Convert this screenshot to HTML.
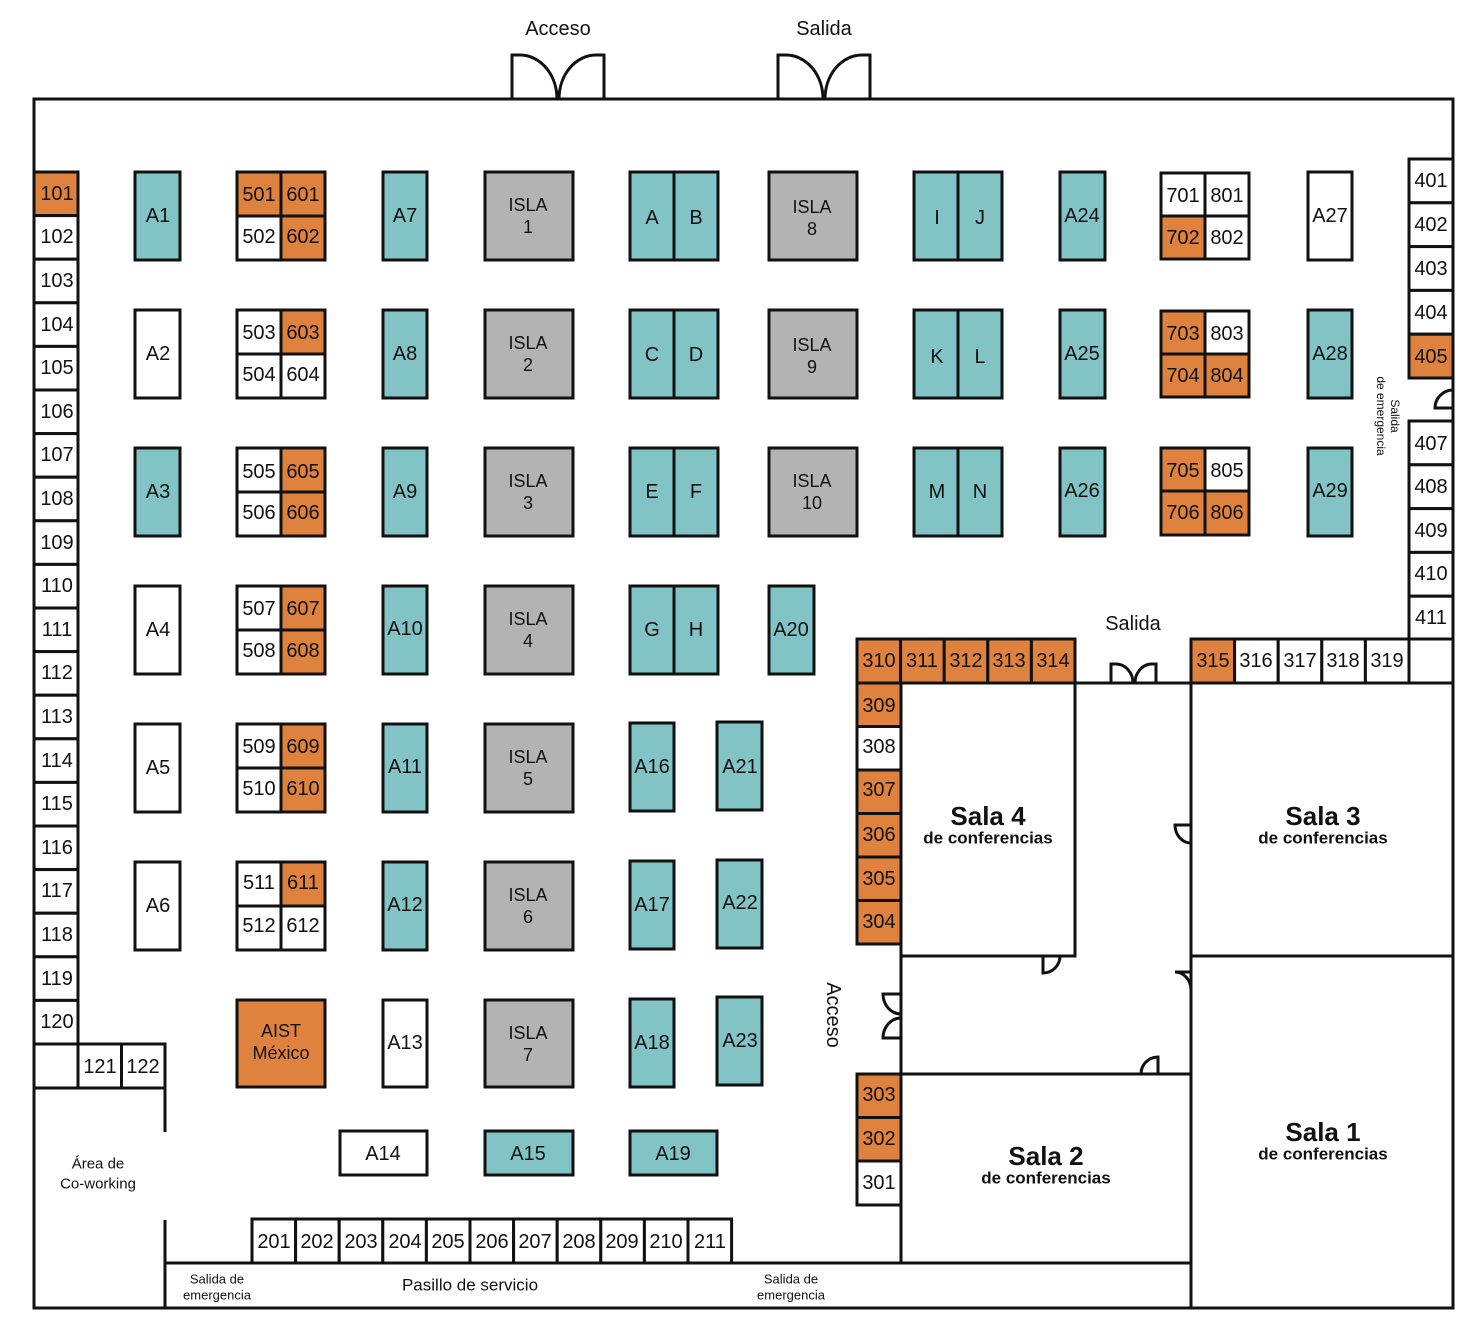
<!DOCTYPE html>
<html><head><meta charset="utf-8"><style>
html,body{margin:0;padding:0;background:#fff}
svg{display:block}
text{font-family:"Liberation Sans",sans-serif;fill:#111;text-anchor:middle;dominant-baseline:central}
rect{stroke:#111;stroke-width:3}
.o{fill:#DE823D}.t{fill:#82C3C6}.g{fill:#B3B3B3}.w{fill:#fff}
.n{font-size:20px}.s{font-size:18px}
.ln{stroke:#111;stroke-width:3;fill:none}
</style></head><body>
<svg width="1484" height="1336" viewBox="0 0 1484 1336" xmlns="http://www.w3.org/2000/svg">
<!-- outer walls -->
<path class="ln" d="M34,99 H1453 V1308 H34 Z"/>
<!-- top doors -->
<path class="ln" d="M512,99 V55 H520 A37,44 0 0 1 557,99 M604,99 V55 H596 A37,44 0 0 0 559,99"/>
<path class="ln" d="M778,99 V55 H786 A37,44 0 0 1 823,99 M870,99 V55 H862 A37,44 0 0 0 825,99"/>
<text x="558" y="29" class="n">Acceso</text>
<text x="824" y="29" class="n">Salida</text>

<!-- 100s column -->
<g class="n">
<rect class="o" x="34" y="172" width="44" height="43.6"/><text x="57" y="194">101</text>
<rect class="w" x="34" y="215.6" width="44" height="43.6"/><text x="57" y="237">102</text>
<rect class="w" x="34" y="259.2" width="44" height="43.6"/><text x="57" y="281">103</text>
<rect class="w" x="34" y="302.8" width="44" height="43.6"/><text x="57" y="325">104</text>
<rect class="w" x="34" y="346.4" width="44" height="43.6"/><text x="57" y="368">105</text>
<rect class="w" x="34" y="390" width="44" height="43.6"/><text x="57" y="412">106</text>
<rect class="w" x="34" y="433.6" width="44" height="43.6"/><text x="57" y="455">107</text>
<rect class="w" x="34" y="477.2" width="44" height="43.6"/><text x="57" y="499">108</text>
<rect class="w" x="34" y="520.8" width="44" height="43.6"/><text x="57" y="543">109</text>
<rect class="w" x="34" y="564.4" width="44" height="43.6"/><text x="57" y="586">110</text>
<rect class="w" x="34" y="608" width="44" height="43.6"/><text x="57" y="630">111</text>
<rect class="w" x="34" y="651.6" width="44" height="43.6"/><text x="57" y="673">112</text>
<rect class="w" x="34" y="695.2" width="44" height="43.6"/><text x="57" y="717">113</text>
<rect class="w" x="34" y="738.8" width="44" height="43.6"/><text x="57" y="761">114</text>
<rect class="w" x="34" y="782.4" width="44" height="43.6"/><text x="57" y="804">115</text>
<rect class="w" x="34" y="826" width="44" height="43.6"/><text x="57" y="848">116</text>
<rect class="w" x="34" y="869.6" width="44" height="43.6"/><text x="57" y="891">117</text>
<rect class="w" x="34" y="913.2" width="44" height="43.6"/><text x="57" y="935">118</text>
<rect class="w" x="34" y="956.8" width="44" height="43.6"/><text x="57" y="979">119</text>
<rect class="w" x="34" y="1000.4" width="44" height="43.6"/><text x="57" y="1022">120</text>
<rect class="w" x="34" y="1044" width="44" height="44"/>
<rect class="w" x="78" y="1044" width="43.5" height="44"/><text x="100" y="1067">121</text>
<rect class="w" x="121.5" y="1044" width="43.5" height="44"/><text x="143" y="1067">122</text>
</g>
<path class="ln" d="M165,1088 V1132 M165,1220 V1308 M165,1263 H1191"/>
<text x="98" y="1164" style="font-size:15px">Área de</text>
<text x="98" y="1184" style="font-size:15px">Co-working</text>
<text x="217" y="1279" style="font-size:13px">Salida de</text>
<text x="217" y="1295" style="font-size:13px">emergencia</text>
<text x="470" y="1285" style="font-size:17px">Pasillo de servicio</text>
<text x="791" y="1279" style="font-size:13px">Salida de</text>
<text x="791" y="1295" style="font-size:13px">emergencia</text>

<!-- 200s -->
<g class="n">
<rect class="w" x="252" y="1219" width="43.6" height="44"/><text x="274" y="1242">201</text>
<rect class="w" x="295.6" y="1219" width="43.6" height="44"/><text x="317" y="1242">202</text>
<rect class="w" x="339.2" y="1219" width="43.6" height="44"/><text x="361" y="1242">203</text>
<rect class="w" x="382.8" y="1219" width="43.6" height="44"/><text x="405" y="1242">204</text>
<rect class="w" x="426.4" y="1219" width="43.6" height="44"/><text x="448" y="1242">205</text>
<rect class="w" x="470" y="1219" width="43.6" height="44"/><text x="492" y="1242">206</text>
<rect class="w" x="513.6" y="1219" width="43.6" height="44"/><text x="535" y="1242">207</text>
<rect class="w" x="557.2" y="1219" width="43.6" height="44"/><text x="579" y="1242">208</text>
<rect class="w" x="600.8" y="1219" width="43.6" height="44"/><text x="622" y="1242">209</text>
<rect class="w" x="644.4" y="1219" width="43.6" height="44"/><text x="666" y="1242">210</text>
<rect class="w" x="688" y="1219" width="43.6" height="44"/><text x="710" y="1242">211</text>
</g>

<!-- A column 1 -->
<g class="n">
<rect class="t" x="135" y="172" width="45" height="88"/><text x="158" y="216">A1</text>
<rect class="w" x="135" y="310" width="45" height="88"/><text x="158" y="354">A2</text>
<rect class="t" x="135" y="448" width="45" height="88"/><text x="158" y="492">A3</text>
<rect class="w" x="135" y="586" width="45" height="88"/><text x="158" y="630">A4</text>
<rect class="w" x="135" y="724" width="45" height="88"/><text x="158" y="768">A5</text>
<rect class="w" x="135" y="862" width="45" height="88"/><text x="158" y="906">A6</text>
</g>

<!-- 500/600 grids -->
<g class="n">
<rect class="o" x="237" y="172" width="44" height="44"/><text x="259" y="195">501</text>
<rect class="o" x="281" y="172" width="44" height="44"/><text x="303" y="195">601</text>
<rect class="w" x="237" y="216" width="44" height="44"/><text x="259" y="237">502</text>
<rect class="o" x="281" y="216" width="44" height="44"/><text x="303" y="237">602</text>

<rect class="w" x="237" y="310" width="44" height="44"/><text x="259" y="333">503</text>
<rect class="o" x="281" y="310" width="44" height="44"/><text x="303" y="333">603</text>
<rect class="w" x="237" y="354" width="44" height="44"/><text x="259" y="375">504</text>
<rect class="w" x="281" y="354" width="44" height="44"/><text x="303" y="375">604</text>

<rect class="w" x="237" y="448" width="44" height="44"/><text x="259" y="472">505</text>
<rect class="o" x="281" y="448" width="44" height="44"/><text x="303" y="472">605</text>
<rect class="w" x="237" y="492" width="44" height="44"/><text x="259" y="513">506</text>
<rect class="o" x="281" y="492" width="44" height="44"/><text x="303" y="513">606</text>

<rect class="w" x="237" y="586" width="44" height="44"/><text x="259" y="609">507</text>
<rect class="o" x="281" y="586" width="44" height="44"/><text x="303" y="609">607</text>
<rect class="w" x="237" y="630" width="44" height="44"/><text x="259" y="651">508</text>
<rect class="o" x="281" y="630" width="44" height="44"/><text x="303" y="651">608</text>

<rect class="w" x="237" y="724" width="44" height="44"/><text x="259" y="747">509</text>
<rect class="o" x="281" y="724" width="44" height="44"/><text x="303" y="747">609</text>
<rect class="w" x="237" y="768" width="44" height="44"/><text x="259" y="789">510</text>
<rect class="o" x="281" y="768" width="44" height="44"/><text x="303" y="789">610</text>

<rect class="w" x="237" y="862" width="44" height="44"/><text x="259" y="883">511</text>
<rect class="o" x="281" y="862" width="44" height="44"/><text x="303" y="883">611</text>
<rect class="w" x="237" y="906" width="44" height="44"/><text x="259" y="926">512</text>
<rect class="w" x="281" y="906" width="44" height="44"/><text x="303" y="926">612</text>
</g>
<rect class="o" x="237" y="1000" width="88" height="87"/>
<text x="281" y="1031" class="s">AIST</text><text x="281" y="1053" class="s">México</text>

<!-- A7 column -->
<g class="n">
<rect class="t" x="383" y="172" width="44" height="88"/><text x="405" y="216">A7</text>
<rect class="t" x="383" y="310" width="44" height="88"/><text x="405" y="354">A8</text>
<rect class="t" x="383" y="448" width="44" height="88"/><text x="405" y="492">A9</text>
<rect class="t" x="383" y="586" width="44" height="88"/><text x="405" y="629">A10</text>
<rect class="t" x="383" y="724" width="44" height="88"/><text x="405" y="767">A11</text>
<rect class="t" x="383" y="862" width="44" height="88"/><text x="405" y="905">A12</text>
<rect class="w" x="383" y="1000" width="44" height="87"/><text x="405" y="1043">A13</text>
<rect class="w" x="340" y="1131" width="87" height="44"/><text x="383" y="1154">A14</text>
<rect class="t" x="485" y="1131" width="88" height="44"/><text x="528" y="1154">A15</text>
<rect class="t" x="630" y="1131" width="87" height="44"/><text x="673" y="1154">A19</text>
</g>

<!-- ISLA column -->
<g class="s">
<rect class="g" x="485" y="172" width="88" height="88"/><text x="528" y="205">ISLA</text><text x="528" y="227">1</text>
<rect class="g" x="485" y="310" width="88" height="88"/><text x="528" y="343">ISLA</text><text x="528" y="365">2</text>
<rect class="g" x="485" y="448" width="88" height="88"/><text x="528" y="481">ISLA</text><text x="528" y="503">3</text>
<rect class="g" x="485" y="586" width="88" height="88"/><text x="528" y="619">ISLA</text><text x="528" y="641">4</text>
<rect class="g" x="485" y="724" width="88" height="88"/><text x="528" y="757">ISLA</text><text x="528" y="779">5</text>
<rect class="g" x="485" y="862" width="88" height="88"/><text x="528" y="895">ISLA</text><text x="528" y="917">6</text>
<rect class="g" x="485" y="1000" width="88" height="87"/><text x="528" y="1033">ISLA</text><text x="528" y="1055">7</text>
<rect class="g" x="769" y="172" width="88" height="88"/><text x="812" y="207">ISLA</text><text x="812" y="229">8</text>
<rect class="g" x="769" y="310" width="88" height="88"/><text x="812" y="345">ISLA</text><text x="812" y="367">9</text>
<rect class="g" x="769" y="448" width="88" height="88"/><text x="812" y="481">ISLA</text><text x="812" y="503">10</text>
</g>

<!-- lettered pairs -->
<g class="n">
<rect class="t" x="630" y="172" width="44" height="88"/><text x="652" y="218">A</text>
<rect class="t" x="674" y="172" width="44" height="88"/><text x="696" y="218">B</text>
<rect class="t" x="630" y="310" width="44" height="88"/><text x="652" y="355">C</text>
<rect class="t" x="674" y="310" width="44" height="88"/><text x="696" y="355">D</text>
<rect class="t" x="630" y="448" width="44" height="88"/><text x="652" y="492">E</text>
<rect class="t" x="674" y="448" width="44" height="88"/><text x="696" y="492">F</text>
<rect class="t" x="630" y="586" width="44" height="88"/><text x="652" y="630">G</text>
<rect class="t" x="674" y="586" width="44" height="88"/><text x="696" y="630">H</text>
<rect class="t" x="769" y="586" width="45" height="88"/><text x="791" y="630">A20</text>
<rect class="t" x="630" y="723" width="44" height="88"/><text x="652" y="767">A16</text>
<rect class="t" x="717" y="722" width="45" height="88"/><text x="740" y="767">A21</text>
<rect class="t" x="630" y="861" width="44" height="88"/><text x="652" y="905">A17</text>
<rect class="t" x="717" y="860" width="45" height="88"/><text x="740" y="903">A22</text>
<rect class="t" x="630" y="999" width="44" height="88"/><text x="652" y="1043">A18</text>
<rect class="t" x="717" y="997" width="45" height="88"/><text x="740" y="1041">A23</text>

<rect class="t" x="914" y="172" width="44" height="88"/><text x="937" y="218">I</text>
<rect class="t" x="958" y="172" width="44" height="88"/><text x="980" y="218">J</text>
<rect class="t" x="914" y="310" width="44" height="88"/><text x="937" y="357">K</text>
<rect class="t" x="958" y="310" width="44" height="88"/><text x="980" y="357">L</text>
<rect class="t" x="914" y="448" width="44" height="88"/><text x="937" y="492">M</text>
<rect class="t" x="958" y="448" width="44" height="88"/><text x="980" y="492">N</text>

<rect class="t" x="1060" y="172" width="45" height="88"/><text x="1082" y="216">A24</text>
<rect class="t" x="1060" y="310" width="45" height="88"/><text x="1082" y="354">A25</text>
<rect class="t" x="1060" y="448" width="45" height="88"/><text x="1082" y="491">A26</text>
<rect class="w" x="1308" y="172" width="44" height="88"/><text x="1330" y="216">A27</text>
<rect class="t" x="1308" y="310" width="44" height="88"/><text x="1330" y="354">A28</text>
<rect class="t" x="1308" y="448" width="44" height="88"/><text x="1330" y="491">A29</text>

<rect class="w" x="1161" y="173" width="44" height="43"/><text x="1183" y="196">701</text>
<rect class="w" x="1205" y="173" width="44" height="43"/><text x="1227" y="196">801</text>
<rect class="o" x="1161" y="216" width="44" height="43"/><text x="1183" y="238">702</text>
<rect class="w" x="1205" y="216" width="44" height="43"/><text x="1227" y="238">802</text>
<rect class="o" x="1161" y="311" width="44" height="43"/><text x="1183" y="334">703</text>
<rect class="w" x="1205" y="311" width="44" height="43"/><text x="1227" y="334">803</text>
<rect class="o" x="1161" y="354" width="44" height="43"/><text x="1183" y="376">704</text>
<rect class="o" x="1205" y="354" width="44" height="43"/><text x="1227" y="376">804</text>
<rect class="o" x="1161" y="448" width="44" height="43"/><text x="1183" y="471">705</text>
<rect class="w" x="1205" y="448" width="44" height="43"/><text x="1227" y="471">805</text>
<rect class="o" x="1161" y="491" width="44" height="44"/><text x="1183" y="513">706</text>
<rect class="o" x="1205" y="491" width="44" height="44"/><text x="1227" y="513">806</text>
</g>

<!-- 400s -->
<g class="n">
<rect class="w" x="1409" y="159" width="44" height="43.8"/><text x="1431" y="181">401</text>
<rect class="w" x="1409" y="202.8" width="44" height="43.8"/><text x="1431" y="225">402</text>
<rect class="w" x="1409" y="246.6" width="44" height="43.8"/><text x="1431" y="269">403</text>
<rect class="w" x="1409" y="290.4" width="44" height="43.8"/><text x="1431" y="313">404</text>
<rect class="o" x="1409" y="334.2" width="44" height="43.8"/><text x="1431" y="357">405</text>
<rect class="w" x="1409" y="421" width="44" height="43.8"/><text x="1431" y="444">407</text>
<rect class="w" x="1409" y="464.8" width="44" height="43.8"/><text x="1431" y="487">408</text>
<rect class="w" x="1409" y="508.6" width="44" height="43.8"/><text x="1431" y="531">409</text>
<rect class="w" x="1409" y="552.4" width="44" height="43.8"/><text x="1431" y="574">410</text>
<rect class="w" x="1409" y="596.2" width="44" height="43.8"/><text x="1431" y="618">411</text>
</g>
<path class="ln" d="M1453,390 A18,18 0 0 0 1435,408 H1453"/>
<text transform="translate(1389,416) rotate(90)" style="font-size:12px" y="-6">Salida</text>
<text transform="translate(1389,416) rotate(90)" style="font-size:12px" y="8">de emergencia</text>

<!-- 300s top row -->
<g class="n">
<rect class="o" x="857" y="639" width="43.6" height="44"/><text x="879" y="661">310</text>
<rect class="o" x="900.6" y="639" width="43.6" height="44"/><text x="922" y="661">311</text>
<rect class="o" x="944.2" y="639" width="43.6" height="44"/><text x="966" y="661">312</text>
<rect class="o" x="987.8" y="639" width="43.6" height="44"/><text x="1009" y="661">313</text>
<rect class="o" x="1031.4" y="639" width="43.6" height="44"/><text x="1053" y="661">314</text>
<rect class="o" x="1191" y="639" width="43.6" height="44"/><text x="1213" y="661">315</text>
<rect class="w" x="1234.6" y="639" width="43.6" height="44"/><text x="1256" y="661">316</text>
<rect class="w" x="1278.2" y="639" width="43.6" height="44"/><text x="1300" y="661">317</text>
<rect class="w" x="1321.8" y="639" width="43.6" height="44"/><text x="1343" y="661">318</text>
<rect class="w" x="1365.4" y="639" width="43.6" height="44"/><text x="1387" y="661">319</text>
<rect class="w" x="1409" y="639" width="44" height="44"/>

<rect class="o" x="857" y="683" width="44" height="43.5"/><text x="879" y="706">309</text>
<rect class="w" x="857" y="726.5" width="44" height="43.5"/><text x="879" y="747">308</text>
<rect class="o" x="857" y="770" width="44" height="43.5"/><text x="879" y="790">307</text>
<rect class="o" x="857" y="813.5" width="44" height="43.5"/><text x="879" y="835">306</text>
<rect class="o" x="857" y="857" width="44" height="43.5"/><text x="879" y="879">305</text>
<rect class="o" x="857" y="900.5" width="44" height="43.5"/><text x="879" y="922">304</text>
<rect class="o" x="857" y="1074" width="44" height="43.5"/><text x="879" y="1095">303</text>
<rect class="o" x="857" y="1117.5" width="44" height="43.5"/><text x="879" y="1139">302</text>
<rect class="w" x="857" y="1161" width="44" height="44"/><text x="879" y="1183">301</text>
</g>
<text x="1133" y="624" class="n">Salida</text>
<path class="ln" d="M1075,683 H1191"/>
<path class="ln" d="M1111,683 V664 H1116 A17,19 0 0 1 1133,683 M1156,683 V664 H1151 A17,19 0 0 0 1135,683"/>

<!-- salas -->
<path class="ln" d="M901,683 V1263 M901,956 H1075 V683 M1191,683 V1308 M1191,956 H1453 M901,1074 H1191"/>
<!-- small doors -->
<path class="ln" d="M1191,825 H1175 A16,18 0 0 0 1191,843"/>
<path class="ln" d="M1191,972 H1175 A16,18 0 0 1 1191,990"/>
<path class="ln" d="M1043,956 V973 A17,17 0 0 0 1060,956"/>
<path class="ln" d="M1158,1074 V1057 A17,17 0 0 0 1141,1074"/>
<path class="ln" d="M901,994 H883 A18,20 0 0 0 901,1014 M901,1038 H883 A18,20 0 0 1 901,1018"/>
<text transform="translate(833,1015) rotate(90)" class="n">Acceso</text>

<g style="font-weight:bold">
<text x="988" y="816" style="font-size:26px">Sala 4</text>
<text x="988" y="838" style="font-size:17px">de conferencias</text>
<text x="1323" y="816" style="font-size:26px">Sala 3</text>
<text x="1323" y="838" style="font-size:17px">de conferencias</text>
<text x="1046" y="1156" style="font-size:26px">Sala 2</text>
<text x="1046" y="1178" style="font-size:17px">de conferencias</text>
<text x="1323" y="1132" style="font-size:26px">Sala 1</text>
<text x="1323" y="1154" style="font-size:17px">de conferencias</text>
</g>
</svg>
</body></html>
